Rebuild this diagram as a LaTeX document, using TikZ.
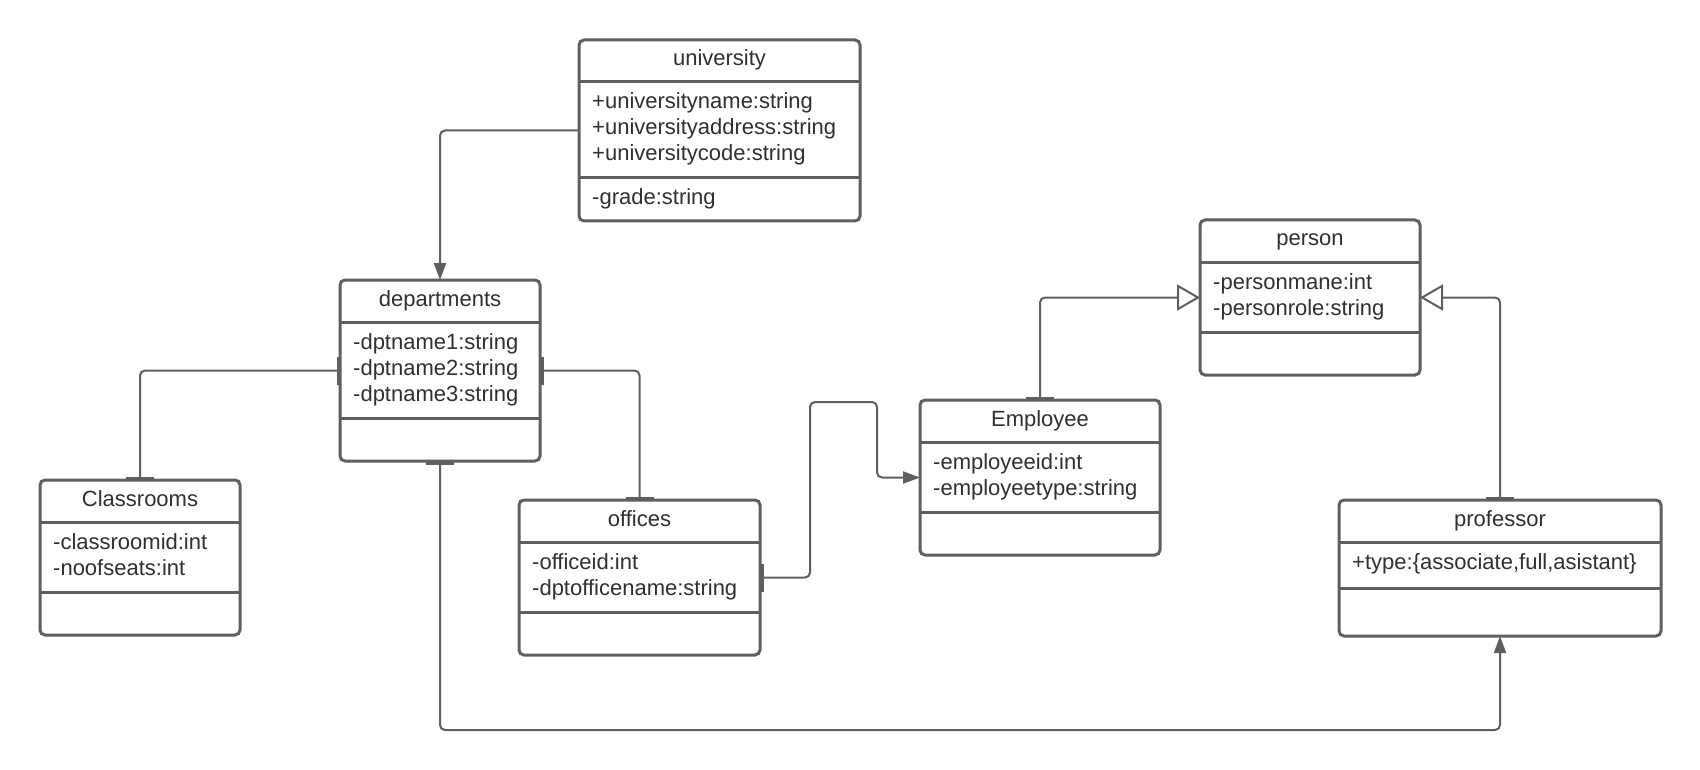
\documentclass[tikz,border=0pt]{standalone}
\usepackage{fontspec}
\setmainfont{Liberation Sans}
\usetikzlibrary{arrows.meta}
\definecolor{linegray}{HTML}{5F5F5F}
\definecolor{inkgray}{HTML}{303030}
\tikzset{
  onebar/.tip={Bar[width=28pt, line width=3.5pt]},
  assoc/.tip={Triangle[length=17pt, width=12pt]},
  inherit/.tip={Triangle[open, length=23pt, width=26pt, fill=white]}
}
\begin{document}
\begin{tikzpicture}[x=1pt,y=-1pt,
  classbox/.style={draw=linegray, line width=3pt, rounded corners=5pt, fill=white, inner sep=0pt, outer sep=0pt},
  divider/.style={draw=linegray, line width=3pt},
  classtitle/.style={anchor=base, inner sep=0pt, font=\fontsize{22}{26}\selectfont, text=inkgray},
  attrtext/.style={anchor=base west, inner sep=0pt, font=\fontsize{22}{26}\selectfont, text=inkgray},
  conn/.style={draw=linegray, line width=2pt, rounded corners=5pt}
]
\fill[white] (0,0) rectangle (1700,770);
\useasboundingbox (0,0) rectangle (1700,770);

% class boxes
\node[classbox, minimum width=281pt, minimum height=181pt] (univ) at (719.5,130.5) {};
\node[classbox, minimum width=200pt, minimum height=181pt] (dept) at (440,370.5) {};
\node[classbox, minimum width=200pt, minimum height=155pt] (class) at (140,557.5) {};
\node[classbox, minimum width=241pt, minimum height=155pt] (off) at (639.5,577.5) {};
\node[classbox, minimum width=240pt, minimum height=155pt] (emp) at (1040,477.5) {};
\node[classbox, minimum width=220pt, minimum height=155pt] (person) at (1310,297.5) {};
\node[classbox, minimum width=322pt, minimum height=136pt] (prof) at (1500,568) {};

% compartment dividers
\draw[divider] ([yshift=-42pt]univ.north west) -- ([yshift=-42pt]univ.north east);
\draw[divider] ([yshift=-138pt]univ.north west) -- ([yshift=-138pt]univ.north east);
\draw[divider] ([yshift=-42pt]dept.north west) -- ([yshift=-42pt]dept.north east);
\draw[divider] ([yshift=-138pt]dept.north west) -- ([yshift=-138pt]dept.north east);
\draw[divider] ([yshift=-42pt]class.north west) -- ([yshift=-42pt]class.north east);
\draw[divider] ([yshift=-112pt]class.north west) -- ([yshift=-112pt]class.north east);
\draw[divider] ([yshift=-42pt]off.north west) -- ([yshift=-42pt]off.north east);
\draw[divider] ([yshift=-112pt]off.north west) -- ([yshift=-112pt]off.north east);
\draw[divider] ([yshift=-42pt]emp.north west) -- ([yshift=-42pt]emp.north east);
\draw[divider] ([yshift=-112pt]emp.north west) -- ([yshift=-112pt]emp.north east);
\draw[divider] ([yshift=-42pt]person.north west) -- ([yshift=-42pt]person.north east);
\draw[divider] ([yshift=-112pt]person.north west) -- ([yshift=-112pt]person.north east);
\draw[divider] ([yshift=-42pt]prof.north west) -- ([yshift=-42pt]prof.north east);
\draw[divider] ([yshift=-88pt]prof.north west) -- ([yshift=-88pt]prof.north east);

% university
\node[classtitle] (univ-t) at (719.5,66) {university};
\node[attrtext] (univ-a1) at (592,109) {+universityname:string};
\node[attrtext] (univ-a2) at (592,135) {+universityaddress:string};
\node[attrtext] (univ-a3) at (592,161) {+universitycode:string};
\node[attrtext] (univ-o1) at (592,205) {-grade:string};

% departments
\node[classtitle] (dept-t) at (440,306) {departments};
\node[attrtext] (dept-a1) at (353,349) {-dptname1:string};
\node[attrtext] (dept-a2) at (353,375) {-dptname2:string};
\node[attrtext] (dept-a3) at (353,401) {-dptname3:string};

% Classrooms
\node[classtitle] (class-t) at (140,506) {Classrooms};
\node[attrtext] (class-a1) at (53,549) {-classroomid:int};
\node[attrtext] (class-a2) at (53,575) {-noofseats:int};

% offices
\node[classtitle] (off-t) at (639.5,526) {offices};
\node[attrtext] (off-a1) at (532,569) {-officeid:int};
\node[attrtext] (off-a2) at (532,595) {-dptofficename:string};

% Employee
\node[classtitle] (emp-t) at (1040,426) {Employee};
\node[attrtext] (emp-a1) at (933,469) {-employeeid:int};
\node[attrtext] (emp-a2) at (933,495) {-employeetype:string};

% person
\node[classtitle] (person-t) at (1310,246) {person};
\node[attrtext] (person-a1) at (1213,289) {-personmane:int};
\node[attrtext] (person-a2) at (1213,315) {-personrole:string};

% professor
\node[classtitle] (prof-t) at (1500,526) {professor};
\node[attrtext] (prof-a1) at (1352,569) {+type:\{associate,full,asistant\}};

% routing points
\coordinate (jog1) at (810,402);
\coordinate (jog2) at (877,402);
\coordinate (rail) at (1000,730);

% connectors
\draw[conn, -{assoc}] (univ.west) -| (dept.north);
\draw[conn, {onebar}-{onebar}] (dept.west) -| (class.north);
\draw[conn, {onebar}-{onebar}] (dept.east) -| (off.north);
\draw[conn, {onebar}-{assoc}] (off.east) -| (jog1) -- (jog2) |- (emp.west);
\draw[conn, {onebar}-{inherit}] (emp.north) |- (person.west);
\draw[conn, {onebar}-{inherit}] (prof.north) |- (person.east);
\draw[conn, {onebar}-{assoc}] (dept.south) -- (dept.south |- rail) -| (prof.south);
\end{tikzpicture}
\end{document}
